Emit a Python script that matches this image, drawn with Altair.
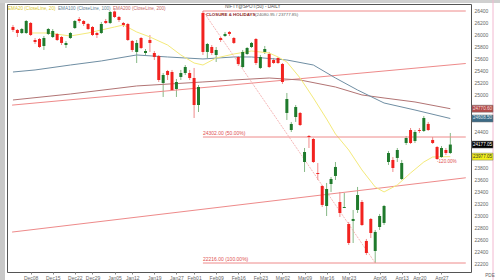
import altair as alt
import pandas as pd

# ---------------- data ----------------
idx = list(range(100))
opens = [26123, 26074, 26024, 26024, 26190, 25908, 25925, 25809, 26008, 25958,
         26008, 25958, 25825, 25941, 26107, 26256, 26223, 26173, 26123, 26024,
         26024, 26223, 26190, 26380, 26289, 26190, 26173, 25892, 25710, 25941,
         25693, 25908, 25693, 25643, 25196, 25395, 25378, 25097, 25296, 25362,
         25362, 25279, 24832, 26355, 25710, 25792, 25660, 25941, 25974, 26041,
         25941, 25627, 25461, 25676, 25792, 25925, 25445, 25710, 25676, 25577,
         25610, 25511, 24700, 24418, 24633, 24700, 23888, 24319, 24269, 23706,
         23491, 23160, 23524, 23657, 23226, 23127, 22862, 22912, 23094, 23226,
         22581, 22945, 22415, 22812, 22879, 23888, 23922, 23955, 23607, 24203,
         24418, 24236, 24418, 24402, 24518, 24253, 24137, 23971, 24087, 24037]
highs = [26157, 26090, 26107, 26239, 26206, 25941, 25941, 25974, 26107, 26090,
         26024, 25974, 25892, 26041, 26239, 26289, 26239, 26190, 26140, 26041,
         26206, 26256, 26388, 26395, 26306, 26206, 26190, 25908, 25908, 25958,
         25759, 25991, 25726, 25660, 25362, 25412, 25412, 25263, 25412, 25494,
         25412, 25445, 25163, 26388, 25859, 25825, 25792, 25958, 26041, 26057,
         25958, 25643, 25743, 25792, 25875, 25941, 25660, 25809, 25710, 25610,
         25627, 25527, 25031, 24551, 24832, 24716, 24120, 24335, 24286, 23872,
         23508, 23541, 23640, 23888, 23392, 23375, 22895, 23094, 23475, 23259,
         22614, 22961, 22763, 23028, 23177, 24071, 23971, 24120, 23922, 24319,
         24451, 24418, 24451, 24650, 24551, 24302, 24153, 24153, 24120, 24369]
lows = [26041, 25958, 26008, 26008, 25974, 25842, 25776, 25743, 25991, 25941,
        25892, 25825, 25776, 25925, 26090, 26190, 26140, 26074, 25974, 25941,
        26008, 26173, 26173, 26272, 26206, 26123, 25892, 25710, 25527, 25759,
        25660, 25710, 25577, 25213, 24965, 25246, 25064, 24965, 25246, 25329,
        25246, 24617, 24716, 25660, 25610, 25660, 25544, 25875, 25958, 25974,
        25842, 25478, 25445, 25660, 25776, 25494, 25428, 25676, 25445, 25511,
        25511, 25180, 24584, 24385, 24551, 24484, 23723, 24120, 23872, 23590,
        23143, 22994, 23392, 23590, 22978, 23127, 22514, 22547, 23044, 22829,
        22349, 22630, 22216, 22763, 22845, 23839, 23723, 23888, 23590, 24170,
        24186, 24203, 24369, 24385, 24402, 24186, 23922, 23955, 24004, 24021]
closes = [26074, 26024, 26090, 26223, 25991, 25875, 25792, 25941, 26090, 26057,
          25908, 25859, 25859, 26024, 26223, 26223, 26173, 26090, 25991, 25991,
          26173, 26190, 26372, 26289, 26239, 26157, 25908, 25743, 25859, 25776,
          25726, 25859, 25627, 25246, 25329, 25329, 25080, 25213, 25362, 25461,
          25279, 24832, 25130, 25710, 25842, 25693, 25743, 25908, 26008, 26008,
          25859, 25511, 25710, 25776, 25859, 25527, 25627, 25759, 25461, 25527,
          25527, 25213, 24931, 24518, 24799, 24501, 24054, 24302, 23888, 23690,
          23177, 23441, 23607, 23806, 23044, 23143, 22547, 22945, 23342, 22845,
          22382, 22713, 22730, 22994, 23160, 24037, 23789, 24087, 23872, 24286,
          24203, 24385, 24402, 24617, 24418, 24203, 23938, 24120, 24037, 24177.05]

ema20_i = [4, 8, 13, 17, 20, 23, 25, 28, 31, 35, 38, 41, 43, 46, 50, 54, 58, 60, 62,
           65, 68, 71, 73, 76, 79, 82, 84, 87, 90, 93, 95, 99]
ema20_v = [26024, 26024, 25974, 26024, 26074, 26123, 26157, 26041, 25958, 25825, 25660,
           25527, 25494, 25610, 25676, 25726, 25693, 25627, 25544, 25279, 24948, 24600,
           24352, 24087, 23756, 23475, 23392, 23508, 23706, 23888, 23971, 23977.05]
ema100_i = [0, 5, 13, 20, 28, 35, 43, 50, 54, 62, 68, 73, 78, 84, 91, 99]
ema100_v = [25378, 25412, 25494, 25561, 25660, 25627, 25594, 25627, 25627, 25577, 25494,
            25279, 25080, 24865, 24749, 24608.5]
ema200_i = [0, 13, 28, 43, 50, 58, 65, 73, 79, 84, 91, 99]
ema200_v = [24915, 25014, 25147, 25213, 25246, 25279, 25246, 25130, 24998, 24948, 24882,
            24770.6]

trend_up_i = [-0.2, 102.5]
trend_up_v = [24830, 25519]
trend_lo_i = [-0.2, 102.5]
trend_lo_v = [22728, 23627]

fib_start, fib_low_i, fib_end = 43, 82, 102.5
fib_high, fib_low = 26388.0, 22216.0
fib_mid = (fib_high + fib_low) / 2

tick_idx = [4, 9, 14, 18, 23, 27, 32, 37, 41, 46, 51, 56, 61, 66, 71, 76, 83, 88, 92, 97]
tick_lab = ["Dec08", "Dec15", "Dec22", "Dec29", "Jan05", "Jan12", "Jan19", "Jan27", "Feb01",
            "Feb09", "Feb16", "Feb23", "Mar02", "Mar09", "Mar16", "Mar23", "Apr06", "Apr13",
            "Apr20", "Apr27"]
# 24800, 24600, 24200 and 24000 sit under the value boxes and are not shown
price_ticks = [22200, 22400, 22600, 22800, 23000, 23200, 23400, 23600, 23800, 24400,
               25000, 25200, 25400, 25600, 25800, 26000, 26200, 26400]

box_vals = [24770.60, 24608.50, 24177.05, 23977.05]
box_fill = ["#b24a48", "#3d6b86", "#000000", "#f2f01a"]
box_text = ["#f4dede", "#dde8ee", "#ffffff", "#333333"]

FONT = "Liberation Sans"
W, H = 464, 268

# ---------------- frames ----------------
candles = pd.DataFrame({"i": idx, "o": opens, "h": highs, "l": lows, "c": closes})
candles["up"] = candles["c"] >= candles["o"]

xs = alt.Scale(domain=[-0.22, 102.55], nice=False, zero=False)
ys = alt.Scale(domain=[22067, 26504], nice=False, zero=False)

xax = alt.Axis(values=tick_idx, title=None, grid=False, labelFontSize=5, labelFont=FONT,
               labelColor="#666", tickSize=2, tickColor="#888", domain=False, labelPadding=1,
               labelOverlap=False, labelFlush=False, labelBound=False,
               labelExpr="[" + ",".join(f"'{l}'" for l in tick_lab) + "][indexof(["
               + ",".join(str(v) for v in tick_idx) + "], datum.value)]")
yax = alt.Axis(orient="right", values=price_ticks, title=None, grid=False, labelFontSize=5,
               labelFont=FONT, labelColor="#666", ticks=False, domain=False, labelPadding=3,
               labelOverlap=False, labelFlush=False, labelBound=False, format="d")


def XE(f):
    return alt.X(f, scale=xs, axis=xax)


def YE(f):
    return alt.Y(f, scale=ys, axis=yax)


base = alt.Chart(candles)

wick = base.mark_rule(strokeWidth=1).encode(
    x=XE("i:Q"), y=YE("l:Q"), y2="h:Q",
    color=alt.condition("datum.up", alt.value("#86b886"), alt.value("#f08a8a")),
)
body = base.mark_bar(width=3, minBandSize=1).encode(
    x=XE("i:Q"), y=YE("o:Q"), y2="c:Q",
    color=alt.condition("datum.up", alt.value("#1f7a2c"), alt.value("#f2221f")),
)


def line(ii, vv, color, width=1.0, dash=None):
    df = pd.DataFrame({"i": ii, "v": vv})
    kw = dict(color=color, strokeWidth=width)
    if dash:
        kw["strokeDash"] = dash
    return alt.Chart(df).mark_line(**kw).encode(x=XE("i:Q"), y=YE("v:Q"))


ema20 = line(ema20_i, ema20_v, "#f4ea7a")
ema100 = line(ema100_i, ema100_v, "#6f8ea3")
ema200 = line(ema200_i, ema200_v, "#b27474")
tr_up = line(trend_up_i, trend_up_v, "#ee8a8a")
tr_lo = line(trend_lo_i, trend_lo_v, "#ee8a8a")
fib_h = line([fib_start, fib_end], [fib_high, fib_high], "#ee8a8a")
fib_m = line([fib_start, fib_end], [fib_mid, fib_mid], "#ee8a8a")
fib_l = line([fib_start, fib_end], [fib_low, fib_low], "#ee8a8a")
fib_d = line([fib_start, fib_low_i], [fib_high, fib_low], "#f3a4a4", 0.8, [2, 1])

fib_txt = alt.Chart(pd.DataFrame({
    "i": [fib_start, fib_start],
    "v": [fib_mid, fib_low],
    "t": [f"{fib_mid:.2f} (50.00%)", f"{fib_low:.2f} (100.00%)"],
})).mark_text(align="left", baseline="bottom", dy=-1, fontSize=5, font=FONT,
              color="#e05050").encode(x=XE("i:Q"), y=YE("v:Q"), text="t:N")

# price boxes on the right axis
boxes = pd.DataFrame({"v": box_vals, "f": box_fill, "tc": box_text,
                      "t": [f"{v:.2f}" for v in box_vals]})
box_r = alt.Chart(boxes).mark_rect(height=7, stroke="#777", strokeWidth=0.5).encode(
    x=alt.value(W + 1), x2=alt.value(W + 22), y=YE("v:Q"),
    fill=alt.Fill("f:N", scale=None))
box_t = alt.Chart(boxes).mark_text(fontSize=4.6, font=FONT, align="center",
                                   baseline="middle").encode(
    x=alt.value(W + 11.5), y=YE("v:Q"), text="t:N",
    color=alt.Color("tc:N", scale=None))


# decorations and labels
def txt(s, x, y, color, size=5, align="left", weight="normal"):
    return alt.Chart(pd.DataFrame({"t": [s]})).mark_text(
        align=align, baseline="middle", fontSize=size, font=FONT, color=color,
        fontWeight=weight).encode(x=alt.value(x), y=alt.value(y), text="t:N")


legend = (txt("EMA20 (CloseLine, 20)", 1, 5, "#d8c830", 4.6)
          + txt("EMA100 (CloseLine, 100)", 51, 5, "#5f7f95", 4.6)
          + txt("EMA200 (CloseLine, 200)", 106, 5, "#c66a6a", 4.6))
title = txt("NIFTY@SPOT(50) - DAILY", 218, 2.5, "#555", 4.6)
note = (txt("CLOSURE & HOLIDAYS", 199, 11, "#8a1a1a", 4.4, weight="bold")
        + txt("(24080.95 / 23777.85)", 248, 11, "#666", 4.4))
chg = txt("-120.00%", 430, 158, "#e05050", 4.6)
pde = txt("PDE", W + 19, H + 4, "#666", 4.6, align="center")

pink = alt.Chart(pd.DataFrame({"a": [0]})).mark_rule(color="#f2b8d0", strokeWidth=1).encode(
    x=alt.value(W + 22), y=alt.value(-4), y2=alt.value(H + 8))
leftbar = alt.Chart(pd.DataFrame({"a": [0]})).mark_rect(color="#c8c8c8").encode(
    x=alt.value(-7), x2=alt.value(-2), y=alt.value(-4), y2=alt.value(H + 8))
topbar = alt.Chart(pd.DataFrame({"a": [0]})).mark_rect(color="#d0d0d0").encode(
    x=alt.value(-7), x2=alt.value(W + 29), y=alt.value(-4), y2=alt.value(-1))

chart = alt.layer(
    wick, leftbar, topbar, pink,
    tr_up, tr_lo, ema200, ema100, ema20,
    fib_h, fib_m, fib_l, fib_d,
    body,
    fib_txt, box_r, box_t, legend, title, note, chg, pde,
).properties(
    width=W, height=H,
    autosize=alt.AutoSizeParams(type="none"),
    padding={"left": 7, "top": 4, "right": 29, "bottom": 8},
    background="white",
).configure_view(stroke="#555", strokeWidth=1).configure_axis(
    labelOverlap=False, labelFlush=False, labelBound=False)

chart.save("out.html", embed_options={"renderer": "svg", "actions": False})
